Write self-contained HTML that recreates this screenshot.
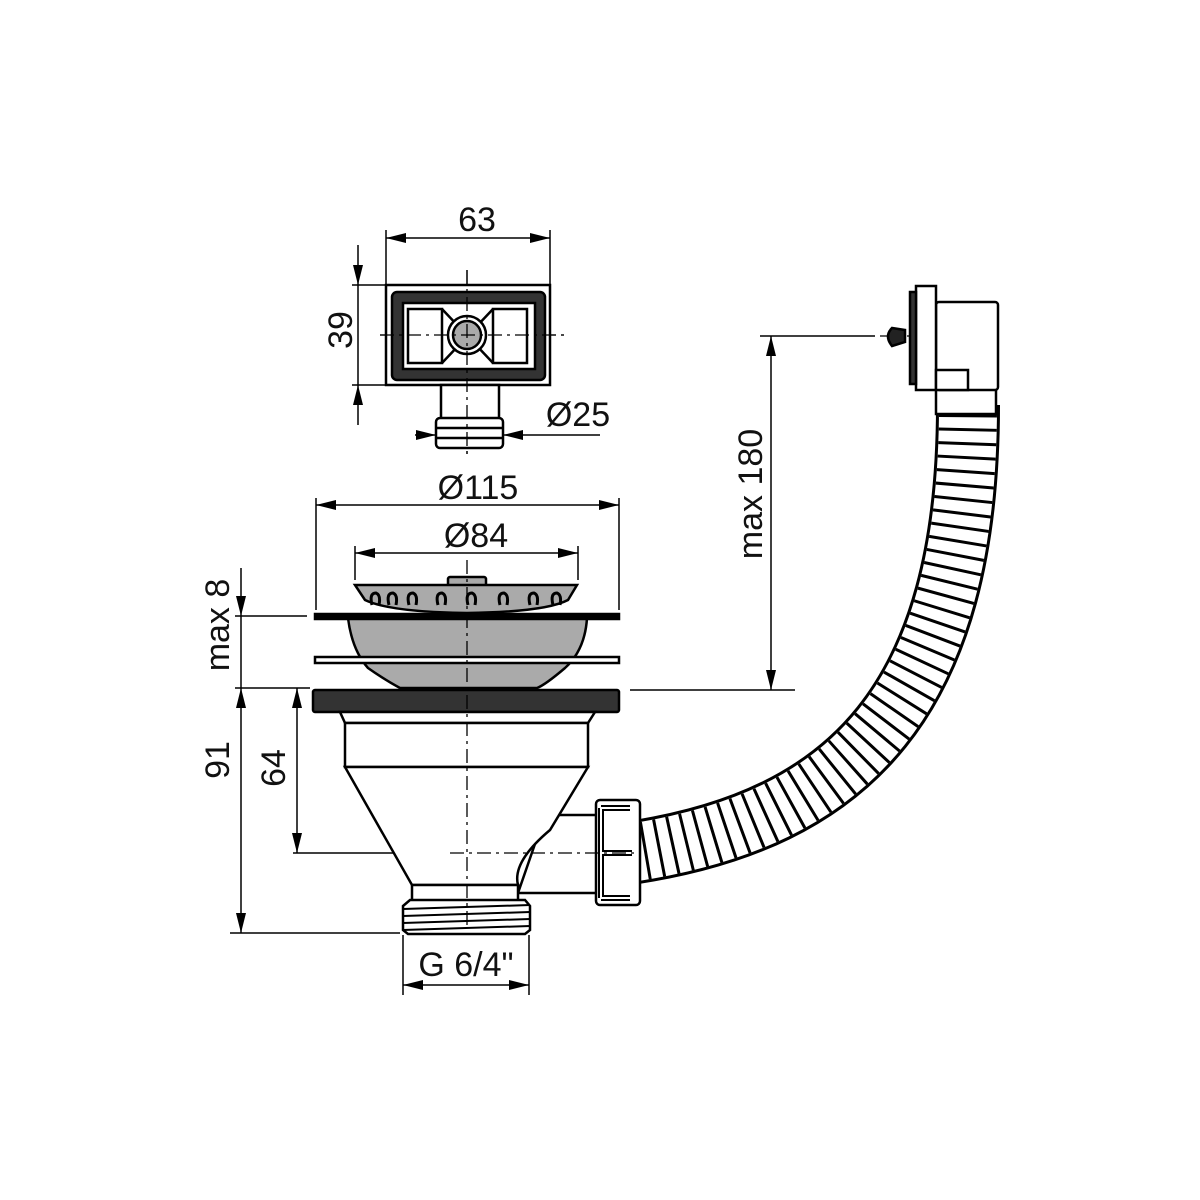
<!DOCTYPE html>
<html><head><meta charset="utf-8"><style>html,body{margin:0;padding:0;background:#fff}svg{display:block}text{font-family:"Liberation Sans",sans-serif;font-size:34px;fill:#111}</style></head>
<body>
<svg width="1200" height="1200" viewBox="0 0 1200 1200" xmlns="http://www.w3.org/2000/svg">
<defs>
<marker id="a" viewBox="0 0 20 10" refX="20" refY="5" markerWidth="20" markerHeight="10" markerUnits="userSpaceOnUse" orient="auto-start-reverse"><path d="M0,0 L20,5 L0,10 z" fill="#000"/></marker>
</defs>
<g stroke="#000" stroke-width="1.5" fill="none">
<line x1="386" y1="230" x2="386" y2="285"/><line x1="550" y1="230" x2="550" y2="285"/>
<line x1="386" y1="238" x2="550" y2="238" marker-start="url(#a)" marker-end="url(#a)"/>
<line x1="352" y1="285" x2="386" y2="285"/><line x1="352" y1="385" x2="386" y2="385"/>
<line x1="358" y1="245" x2="358" y2="285" marker-end="url(#a)"/>
<line x1="358" y1="425" x2="358" y2="385" marker-end="url(#a)"/>
<line x1="358" y1="285" x2="358" y2="385"/>
<line x1="415" y1="435" x2="436" y2="435" marker-end="url(#a)"/>
<line x1="600" y1="435" x2="503" y2="435" marker-end="url(#a)"/>
<line x1="316" y1="498" x2="316" y2="610"/><line x1="619" y1="498" x2="619" y2="610"/>
<line x1="316" y1="505" x2="619" y2="505" marker-start="url(#a)" marker-end="url(#a)"/>
<line x1="355" y1="546" x2="355" y2="580"/><line x1="578" y1="546" x2="578" y2="580"/>
<line x1="355" y1="553" x2="578" y2="553" marker-start="url(#a)" marker-end="url(#a)"/>
<line x1="235" y1="616" x2="307" y2="616"/><line x1="235" y1="688" x2="310" y2="688"/>
<line x1="241" y1="568" x2="241" y2="616" marker-end="url(#a)"/>
<line x1="241" y1="616" x2="241" y2="688"/>
<line x1="241" y1="688" x2="241" y2="933" marker-start="url(#a)" marker-end="url(#a)"/>
<line x1="230" y1="933" x2="400" y2="933"/>
<line x1="297" y1="688" x2="297" y2="853" marker-start="url(#a)" marker-end="url(#a)"/>
<line x1="293" y1="853" x2="450" y2="853"/>
<line x1="403" y1="935" x2="403" y2="995"/><line x1="529" y1="935" x2="529" y2="995"/>
<line x1="403" y1="985" x2="529" y2="985" marker-start="url(#a)" marker-end="url(#a)"/>
<line x1="760" y1="336" x2="875" y2="336"/><line x1="630" y1="690" x2="795" y2="690"/>
<line x1="771" y1="336" x2="771" y2="690" marker-start="url(#a)" marker-end="url(#a)"/>
</g>
<g stroke="#000" stroke-width="1.3" stroke-dasharray="14 5 3 5" fill="none">
<line x1="467" y1="270" x2="467" y2="455"/>
<line x1="380" y1="335" x2="568" y2="335"/>
<line x1="968" y1="330" x2="968" y2="430"/>
<line x1="880" y1="336" x2="968" y2="336"/>
</g>
<g stroke="#000" stroke-width="2.5">
<rect x="386" y="285" width="164" height="100" fill="#fff"/>
<rect x="392" y="292" width="153" height="88" rx="5" fill="#333"/>
<rect x="403" y="303" width="132" height="66" fill="#fff"/>
<rect x="408" y="309" width="34" height="54" fill="#fff"/>
<rect x="493" y="309" width="34" height="54" fill="#fff"/>
<line x1="442" y1="309" x2="493" y2="363"/><line x1="493" y1="309" x2="442" y2="363"/>
<circle cx="467" cy="335" r="19" fill="#fff"/>
<circle cx="467" cy="335" r="14" fill="#aaa"/>
<rect x="441" y="385" width="58" height="35" fill="#fff"/>
<rect x="436" y="418" width="67" height="30" rx="4" fill="#fff"/>
<line x1="436" y1="428" x2="503" y2="428"/><line x1="436" y1="438" x2="503" y2="438"/>
</g>
<g stroke="#000" stroke-width="1.3" stroke-dasharray="14 5 3 5"><line x1="380" y1="335" x2="568" y2="335"/><line x1="467" y1="270" x2="467" y2="455"/></g>
<g fill="none">
<path d="M630,853 C850,820 968,700 968,405" stroke="#000" stroke-width="64"/>
<path d="M630,853 C850,820 968,700 968,405" stroke="#fff" stroke-width="58"/>
<path d="M630,853 C850,820 968,700 968,405" stroke="#000" stroke-width="58" stroke-dasharray="3 11"/>
</g>
<g stroke="#000" stroke-width="2.5" fill="#fff">
<rect x="936" y="372" width="60" height="42"/>
<rect x="936" y="302" width="62" height="88" rx="3"/>
<rect x="916" y="286" width="20" height="104"/>
<rect x="910" y="292" width="6" height="92" fill="#333"/>
<rect x="936" y="370" width="32" height="20"/>
<path d="M905,330 L892,328 Q884,336 892,346 L905,342 Z" fill="#222"/>
</g>
<g stroke="#000" stroke-width="2.5">
<rect x="448" y="577" width="38" height="9" rx="2" fill="#aaa"/>
<path d="M355,585 L577,585 L568,600 Q545,612 467,613 Q390,612 365,600 Z" fill="#aaa"/>
<g fill="none" stroke-width="3">
<path d="M372,605 q-3,-12 4,-12 q5,2 3,12"/><path d="M389,605 q-3,-12 4,-12 q5,2 3,12"/>
<path d="M409,605 q-3,-12 4,-12 q5,2 3,12"/><path d="M438,605 q-3,-12 4,-12 q5,2 3,12"/>
<path d="M468,605 q-3,-12 4,-12 q5,2 3,12"/><path d="M500,605 q-3,-12 4,-12 q5,2 3,12"/>
<path d="M530,605 q-3,-12 4,-12 q5,2 3,12"/><path d="M553,605 q-3,-12 4,-12 q5,2 3,12"/>
</g>
<path d="M348,618 L587,618 Q585,650 565,668 Q545,685 537,688 L400,688 Q385,680 368,668 Q352,650 348,618 Z" fill="#aaa"/>
<rect x="315" y="614" width="304" height="5" fill="#000"/>
<rect x="315" y="657" width="304" height="6" fill="#fff"/>
<rect x="313" y="690" width="306" height="22" rx="2" fill="#333"/>
<path d="M340,712 L595,712 L588,723 L345,723 Z" fill="#fff"/>
<rect x="345" y="723" width="243" height="44" fill="#fff"/>
<path d="M545,815 L600,815 L600,893 L518,893 Z" fill="#fff"/>
<path d="M345,767 L588,767 L550,830 Q512,862 518,885 L412,885 Z" fill="#fff"/>
<rect x="412" y="885" width="106" height="16" fill="#fff"/>
<path d="M410,900 L525,900 L530,906 L530,930 L525,934 L408,934 L403,930 L403,906 Z" fill="#fff"/>
<g stroke-width="2"><line x1="403" y1="909" x2="530" y2="905"/><line x1="403" y1="916" x2="530" y2="912"/><line x1="403" y1="923" x2="530" y2="919"/><line x1="403" y1="930" x2="530" y2="926"/></g>
<rect x="596" y="800" width="44" height="105" rx="4" fill="#fff"/>
<path d="M601,808 L601,898 M601,808 L630,808 M601,853 L632,853 M601,898 L630,898" fill="none" stroke-width="6"/>
<path d="M601,808 L601,898 M601,808 L630,808 M601,853 L632,853 M601,898 L630,898" fill="none" stroke="#fff" stroke-width="2"/>
</g>
<g stroke="#000" stroke-width="1.3" stroke-dasharray="14 5 3 5"><line x1="467" y1="560" x2="467" y2="925"/><line x1="450" y1="853" x2="640" y2="853"/></g>
<text x="477" y="231" text-anchor="middle">63</text>
<text transform="translate(352,330) rotate(-90)" text-anchor="middle">39</text>
<text x="578" y="426" text-anchor="middle">Ø25</text>
<text x="478" y="499" text-anchor="middle">Ø115</text>
<text x="476" y="547" text-anchor="middle">Ø84</text>
<text transform="translate(229,625) rotate(-90)" text-anchor="middle">max 8</text>
<text transform="translate(229,760) rotate(-90)" text-anchor="middle">91</text>
<text transform="translate(285,768) rotate(-90)" text-anchor="middle">64</text>
<text transform="translate(762,494) rotate(-90)" text-anchor="middle">max 180</text>
<text x="466" y="976" text-anchor="middle">G 6/4"</text>
</svg>
</body></html>
